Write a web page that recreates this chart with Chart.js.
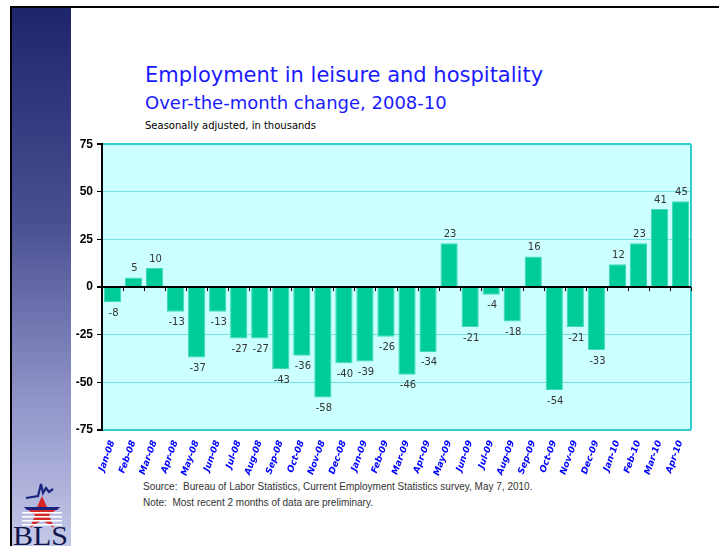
<!DOCTYPE html>
<html>
<head>
<meta charset="utf-8">
<script src="https://cdn.jsdelivr.net/npm/chart.js@4"></script>
<style>
  body { margin: 0; width: 719px; height: 546px; background: #fff; position: relative; overflow: hidden; font-family: "DejaVu Sans", Verdana, sans-serif; }
  #topline { position: absolute; left: 10px; top: 6px; width: 709px; height: 2px; background: #000; }
  #leftline { position: absolute; left: 10px; top: 6px; width: 2px; height: 540px; background: #000; }
  #sidebar { position: absolute; left: 12px; top: 8px; width: 59px; height: 538px;
    background: linear-gradient(to bottom, #1e2568 0%, #4a4f92 40%, #8a8ec4 70%, #c4c8e8 100%); }
  #title { position: absolute; left: 145px; top: 63px; color: #1a1aff; font-size: 21px; white-space: nowrap; }
  #subtitle { position: absolute; left: 145px; top: 92px; color: #1a1aff; font-size: 18px; white-space: nowrap; }
  #units { position: absolute; left: 145px; top: 120px; color: #000; font-size: 10px; white-space: nowrap; }
  .foot { position: absolute; left: 143px; color: #333; font-size: 10px; white-space: nowrap; font-family: "Liberation Sans", Arial, sans-serif; }
  #chartBox { position: absolute; left: 60px; top: 133px; }
  #logo { position: absolute; left: 12px; top: 474px; }
</style>
</head>
<body>
<div id="sidebar"></div>
<div id="topline"></div>
<div id="leftline"></div>
<div id="title">Employment in leisure and hospitality</div>
<div id="subtitle">Over-the-month change, 2008-10</div>
<div id="units">Seasonally adjusted, in thousands</div>
<div class="foot" style="top:481px">Source:&nbsp; Bureau of Labor Statistics, Current Employment Statistics survey, May 7, 2010.</div>
<div class="foot" style="top:497px">Note:&nbsp; Most recent 2 months of data are preliminary.</div>
<svg id="logo" width="60" height="72" viewBox="0 0 60 72">
  <polyline points="14,24 26,22 29,10 31,19 34,14 37,18 41,15" fill="none" stroke="#1a237e" stroke-width="2.2"/>
  <polygon points="30,22 35,33 48,33 37,41 42,54 30,46 18,54 23,41 12,33 25,33" fill="#d62828"/>
  <polygon points="12,33 48,33 45,36 15,36" fill="#1a237e"/>
  <rect x="10" y="38" width="40" height="1.6" fill="#fff"/>
  <rect x="10" y="42" width="40" height="1.6" fill="#fff"/>
  <rect x="10" y="46" width="40" height="1.6" fill="#fff"/>
  <rect x="10" y="50" width="40" height="1.6" fill="#fff"/>
  <text x="1" y="71" font-family="Liberation Serif, serif" font-size="27" fill="#10164a" textLength="55" lengthAdjust="spacingAndGlyphs">BLS</text>
</svg>
<div id="chartBox"><canvas id="myChart" width="650" height="352"></canvas></div>
<script>
const months = ['Jan-08', 'Feb-08', 'Mar-08', 'Apr-08', 'May-08', 'Jun-08', 'Jul-08', 'Aug-08', 'Sep-08', 'Oct-08',
    'Nov-08', 'Dec-08', 'Jan-09', 'Feb-09', 'Mar-09', 'Apr-09', 'May-09', 'Jun-09', 'Jul-09', 'Aug-09',
    'Sep-09', 'Oct-09', 'Nov-09', 'Dec-09', 'Jan-10', 'Feb-10', 'Mar-10', 'Apr-10'];
const changes = [-8, 5, 10, -13, -37, -13, -27, -27, -43, -36,
    -58, -40, -39, -26, -46, -34, 23, -21, -4, -18,
    16, -54, -21, -33, 12, 23, 41, 45];
const yMin = -75;
const yMax = 75;
const yStep = 25;

const plotExtras = {
    id: 'plotExtras',
    beforeDraw(chart) {
        const { ctx, chartArea: a } = chart;
        ctx.save();
        ctx.fillStyle = '#ccffff';
        ctx.fillRect(a.left, a.top, a.right - a.left, a.bottom - a.top);
        ctx.restore();
    },
    afterDatasetsDraw(chart) {
        const { ctx, chartArea: a, scales } = chart;
        const y0 = scales.y.getPixelForValue(0);
        ctx.save();
        // right border
        ctx.strokeStyle = '#33cccc';
        ctx.lineWidth = 2;
        ctx.beginPath();
        ctx.moveTo(a.right, a.top);
        ctx.lineTo(a.right, a.bottom);
        ctx.stroke();
        // zero line with category ticks
        ctx.strokeStyle = '#000';
        ctx.lineWidth = 2;
        ctx.beginPath();
        ctx.moveTo(a.left, y0);
        ctx.lineTo(a.right, y0);
        ctx.stroke();
        ctx.lineWidth = 1;
        const step = (a.right - a.left) / months.length;
        ctx.beginPath();
        for (let i = 1; i <= months.length; i++) {
            const x = Math.round(a.left + i * step) + 0.5;
            ctx.moveTo(x, y0);
            ctx.lineTo(x, y0 + 4);
        }
        ctx.stroke();
        // value labels
        ctx.fillStyle = '#333';
        ctx.font = '10px "DejaVu Sans", Verdana, sans-serif';
        ctx.textAlign = 'center';
        ctx.textBaseline = 'middle';
        chart.getDatasetMeta(0).data.forEach((bar, i) => {
            const v = changes[i];
            const y = v >= 0 ? bar.y - 9 : bar.y + 11;
            ctx.fillText(String(v), bar.x + 1, y);
        });
        ctx.restore();
    }
};

new Chart(document.getElementById('myChart'), {
    type: 'bar',
    data: {
        labels: months,
        datasets: [{
            data: changes,
            backgroundColor: '#00cc99',
            borderColor: '#40dcb0',
            borderWidth: 1,
            barPercentage: 0.82,
            categoryPercentage: 1
        }]
    },
    options: {
        responsive: false,
        animation: false,
        devicePixelRatio: 1,
        layout: { padding: { top: 6, right: 19, left: 0, bottom: 0 } },
        plugins: { legend: { display: false }, tooltip: { enabled: false } },
        scales: {
            x: {
                afterFit(scale) { scale.height = 55; },
                grid: { display: false },
                border: { display: false },
                ticks: {
                    color: '#0000ff',
                    font: { family: '"DejaVu Sans", Verdana, sans-serif', size: 9, weight: 'bold', style: 'italic' },
                    minRotation: 70,
                    maxRotation: 70,
                    padding: 1,
                    autoSkip: false
                }
            },
            y: {
                min: yMin,
                max: yMax,
                afterFit(scale) { scale.width = 42; },
                border: { display: true, color: '#000', width: 2 },
                grid: {
                    color: c => (c.tick.value === 0 ? '#000' : (Math.abs(c.tick.value) === 75 ? '#33cccc' : '#77e0e0')),
                    lineWidth: c => (c.tick.value === 0 || Math.abs(c.tick.value) === 75 ? 2 : 1),
                    tickColor: '#000',
                    tickLength: 5
                },
                ticks: {
                    stepSize: yStep,
                    color: '#000',
                    padding: 4,
                    font: { family: '"Liberation Sans", Arial, sans-serif', size: 12, weight: 'bold' }
                }
            }
        }
    },
    plugins: [plotExtras]
});
</script>
</body>
</html>
